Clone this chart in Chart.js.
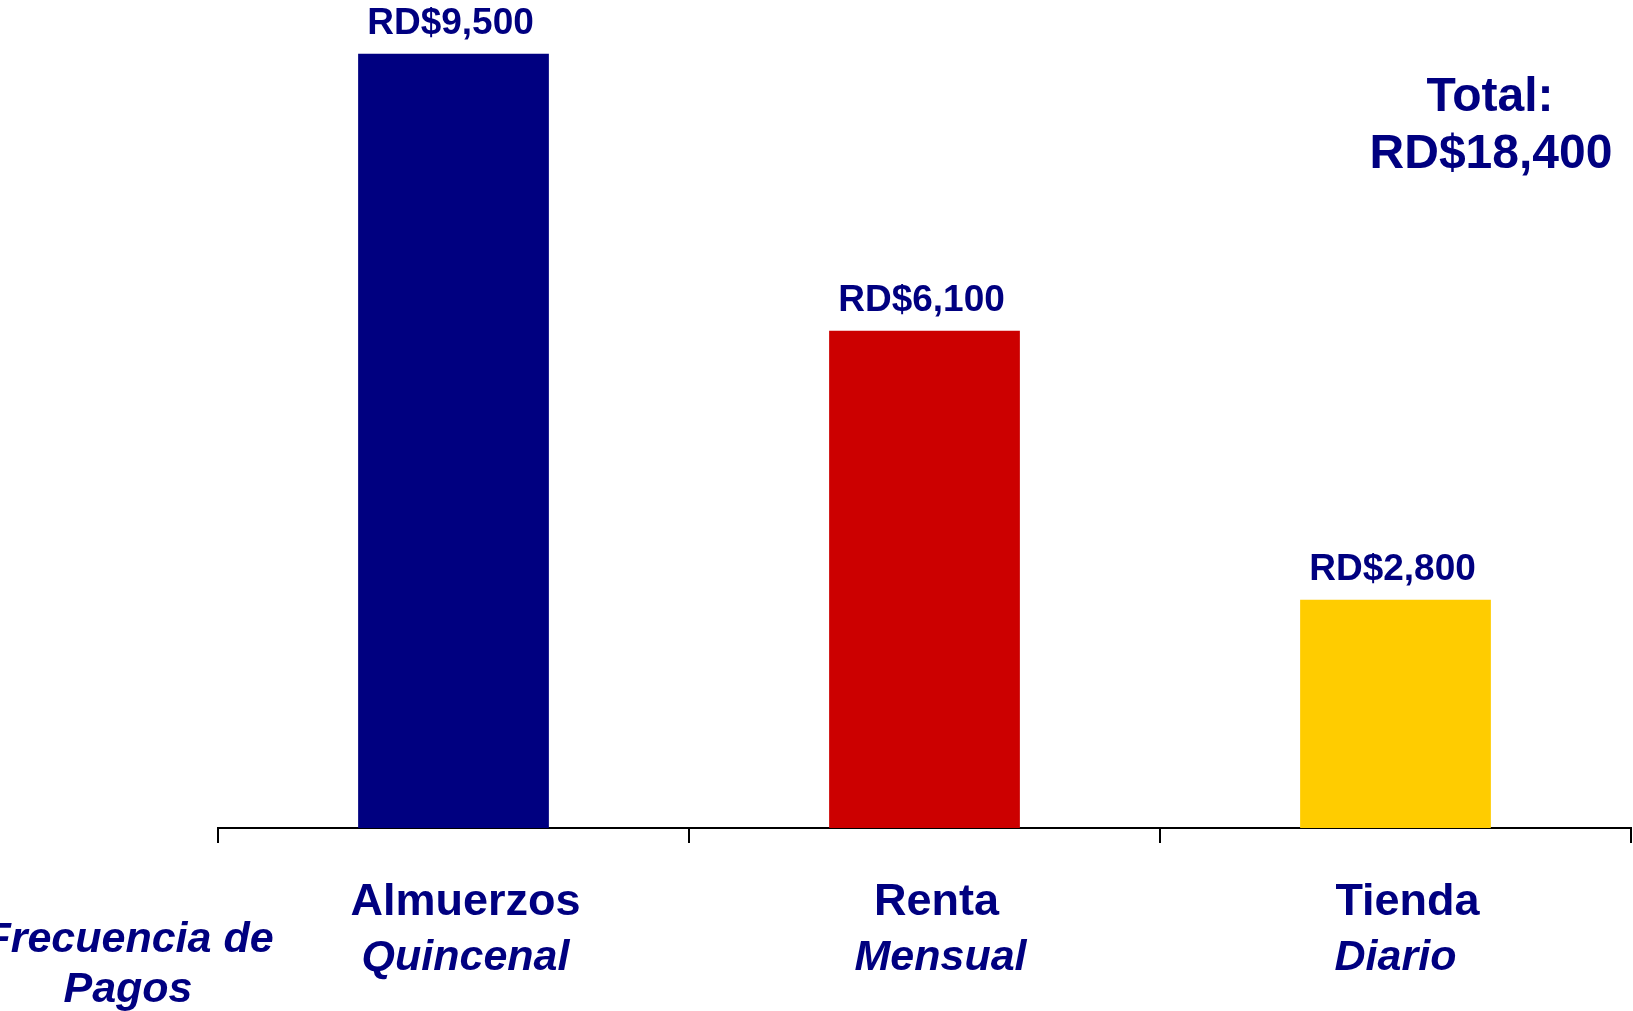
<!DOCTYPE html>
<html>
<head>
<meta charset="utf-8">
<script src="https://cdn.jsdelivr.net/npm/chart.js@4/dist/chart.umd.min.js"></script>
<style>
  body { margin: 0; background: #fff; }
  canvas { display: block; }
</style>
</head>
<body>
<canvas id="myChart" width="1633" height="1011"></canvas>
<script>
// categories, payment frequency and amounts (RD$)
var categories = ['Almuerzos', 'Renta', 'Tienda'];
var frequency = ['Quincenal', 'Mensual', 'Diario'];
var amounts = [9500, 6100, 2800];
var barColors = ['#000080', '#CC0000', '#FFCC00'];
var totalLines = ['Total:', 'RD$18,400'];
var sideLabel = ['Frecuencia de', 'Pagos'];

var navy = '#000080';
var fontFamily = '"Liberation Sans", Arial, sans-serif';

function money(v) {
  return 'RD$' + v.toLocaleString('en-US');
}

// labels above the bars, category names under the axis, and the total
var textPlugin = {
  id: 'texts',
  afterDraw: function (chart) {
    var ctx = chart.ctx;
    var x = chart.scales.x;
    var y = chart.scales.y;
    // the second line isn't quite centred in the original
    var freqShift = [0, 4, -12];
    ctx.save();
    ctx.fillStyle = navy;
    ctx.textAlign = 'center';

    // value labels
    ctx.font = 'bold 37px ' + fontFamily;
    ctx.textBaseline = 'alphabetic';
    amounts.forEach(function (v, i) {
      ctx.fillText(money(v), x.getPixelForValue(i) - 3, y.getPixelForValue(v) - 20);
    });

    // category + frequency
    ctx.textBaseline = 'middle';
    categories.forEach(function (c, i) {
      var cx = x.getPixelForValue(i) + 12;
      ctx.font = 'bold 45px ' + fontFamily;
      ctx.fillText(c, cx, x.bottom + 60);
      ctx.font = 'italic bold 43px ' + fontFamily;
      ctx.fillText(frequency[i], cx + freqShift[i], x.bottom + 115);
    });

    // left side label
    ctx.font = 'italic bold 43px ' + fontFamily;
    ctx.fillText(sideLabel[0], 129, x.bottom + 97);
    ctx.fillText(sideLabel[1], 128, x.bottom + 147);

    // total
    ctx.font = 'bold 48px ' + fontFamily;
    ctx.fillText(totalLines[0], 1490, 98);
    ctx.fillText(totalLines[1], 1491, 155);
    ctx.restore();
  }
};

var ctx = document.getElementById('myChart');
var myChart = new Chart(ctx, {
  type: 'bar',
  data: {
    labels: categories,
    datasets: [
      {
        data: amounts,
        backgroundColor: barColors,
        borderWidth: 0,
        barPercentage: 0.405,
        categoryPercentage: 1
      }
    ]
  },
  options: {
    responsive: false,
    animation: false,
    layout: {
      padding: { left: 218, right: 2, top: 13, bottom: 168 }
    },
    plugins: {
      legend: { display: false },
      tooltip: { enabled: false }
    },
    scales: {
      x: {
        grid: {
          offset: true,
          drawOnChartArea: false,
          color: '#000',
          lineWidth: 2,
          tickLength: 15
        },
        border: { color: '#000', width: 2 },
        ticks: { display: false }
      },
      y: {
        display: false,
        min: 0,
        max: 10000
      }
    }
  },
  plugins: [textPlugin]
});
</script>
</body>
</html>
